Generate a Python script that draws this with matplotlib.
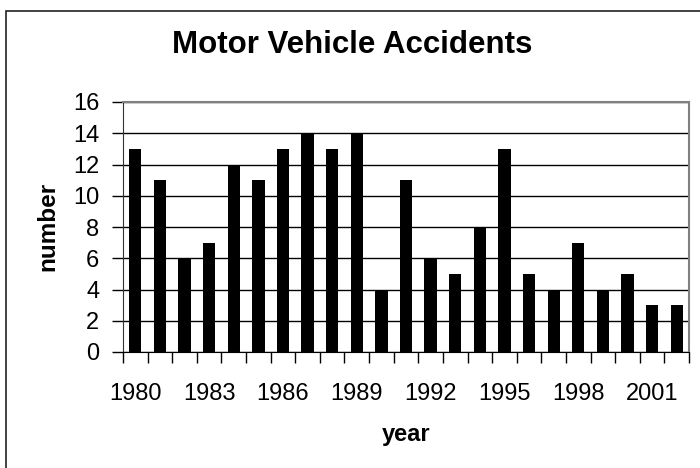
import numpy as np
import matplotlib
matplotlib.use('Agg')
import matplotlib.pyplot as plt
from matplotlib.patches import Rectangle

plt.rcParams['font.family'] = ['Liberation Sans', 'DejaVu Sans']

# данные
years = list(range(1980, 2003))
accidents = [13, 11, 6, 7, 12, 11, 13, 14, 13, 14, 4, 11, 6, 5, 8, 13, 5, 4, 7, 4, 5, 3, 3]
y_ticks = [0, 2, 4, 6, 8, 10, 12, 14, 16]

W, H = 700, 468
fig = plt.figure(figsize=(W / 100, H / 100), dpi=100)

# рамка всей диаграммы (уходит за правый и нижний край)
fig.patches.append(Rectangle((6 / W, -10 / H), 720 / W, (H - 11 + 10) / H,
                             transform=fig.transFigure, fill=False,
                             edgecolor='#222222', linewidth=1.2))

left, top, right, bottom = 123, 102, 689, 352
ax = fig.add_axes([left / W, (H - bottom) / H, (right - left) / W, (bottom - top) / H])

x = np.arange(len(years))
ax.bar(x, accidents, width=0.5, color='black', zorder=3)

ax.set_xlim(-0.5, len(years) - 0.5)
ax.set_ylim(0, 16)
ax.set_yticks(y_ticks)
ax.yaxis.grid(True, color='black', linewidth=1, zorder=0)

# деления между категориями, подписи каждые 3 года
ax.set_xticks(np.arange(-0.5, len(years), 1.0))
ax.set_xticklabels([])
ax.set_xticks(x[::3], minor=True)
ax.set_xticklabels([str(y) for y in years[::3]], minor=True)
ax.tick_params(axis='x', which='major', direction='out', length=8, width=1, color='black')
ax.tick_params(axis='x', which='minor', length=0, pad=22, labelsize=17)
ax.tick_params(axis='y', direction='out', length=8, width=1, pad=9, labelsize=17)

for s in ['top', 'right']:
    ax.spines[s].set_color('#808080')
    ax.spines[s].set_linewidth(1.5)
ax.spines['left'].set_color('#333333')
ax.spines['bottom'].set_color('black')

fig.text(352 / W, 1 - 45 / H, 'Motor Vehicle Accidents', ha='center', va='center',
         fontsize=22.5, fontweight='bold')
fig.text(406 / W, 1 - 434 / H, 'year', ha='center', va='center',
         fontsize=17, fontweight='bold')
fig.text(48 / W, 1 - 226 / H, 'number', ha='center', va='center', rotation=90,
         fontsize=17.5, fontweight='bold')

fig.savefig('out.png', dpi=100)
